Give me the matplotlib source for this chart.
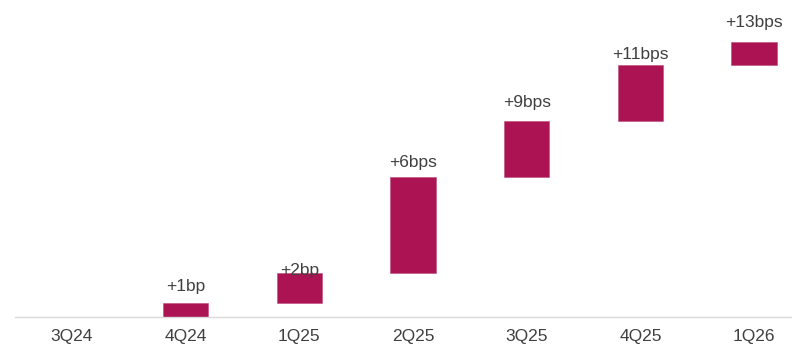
import matplotlib
matplotlib.use("Agg")
import matplotlib.pyplot as plt
import numpy as np

plt.rcParams['font.family'] = ['Liberation Sans', 'DejaVu Sans']

categories = ["3Q24", "4Q24", "1Q25", "2Q25", "3Q25", "4Q25", "1Q26"]
# cumulative level (bps) at each quarter
levels = [0.0, 0.69, 2.08, 6.65, 9.28, 11.94, 13.0]
labels = ["", "+1bp", "+2bp", "+6bps", "+9bps", "+11bps", "+13bps"]

# style: vertical offset of each label above bar top (pixels)
label_offsets_px = [0, 12, -2, 10, 14, 6, 15]

bar_color = "#AB1352"
text_color = "#404040"

W, H, DPI = 792, 344, 100
fig = plt.figure(figsize=(W / DPI, H / DPI), dpi=DPI)
ax_left, ax_bottom = 15 / W, (H - 317.3) / H
ax = fig.add_axes([ax_left, ax_bottom, 1 - ax_left, 1 - ax_bottom])

x = np.arange(len(categories))
bottoms = np.array([0.0] + levels[:-1])
heights = np.array(levels) - bottoms
heights[0] = 0.0

ax.bar(x[1:], heights[1:], bottom=bottoms[1:], width=0.4, color=bar_color,
       edgecolor="#C04A7A", linewidth=0.4)

for i in range(1, len(categories)):
    ax.annotate(labels[i], xy=(x[i], levels[i]),
                xytext=(0, label_offsets_px[i] * 72 / DPI), textcoords="offset points",
                ha="center", va="baseline", fontsize=12.5, color=text_color,
                annotation_clip=False)

ax.set_xlim(-0.5, (W - 72) / 113.7)
ax.set_ylim(0, 15.0)
ax.set_xticks(x)
ax.set_xticklabels(categories, fontsize=12.5, color=text_color)
ax.tick_params(axis="x", length=0, pad=8.5)
ax.set_yticks([])
for s in ["top", "right", "left"]:
    ax.spines[s].set_visible(False)
ax.spines["bottom"].set_color("#D9D9D9")
ax.spines["bottom"].set_linewidth(1.0)
ax.patch.set_visible(False)

fig.savefig("out.png", dpi=DPI)
